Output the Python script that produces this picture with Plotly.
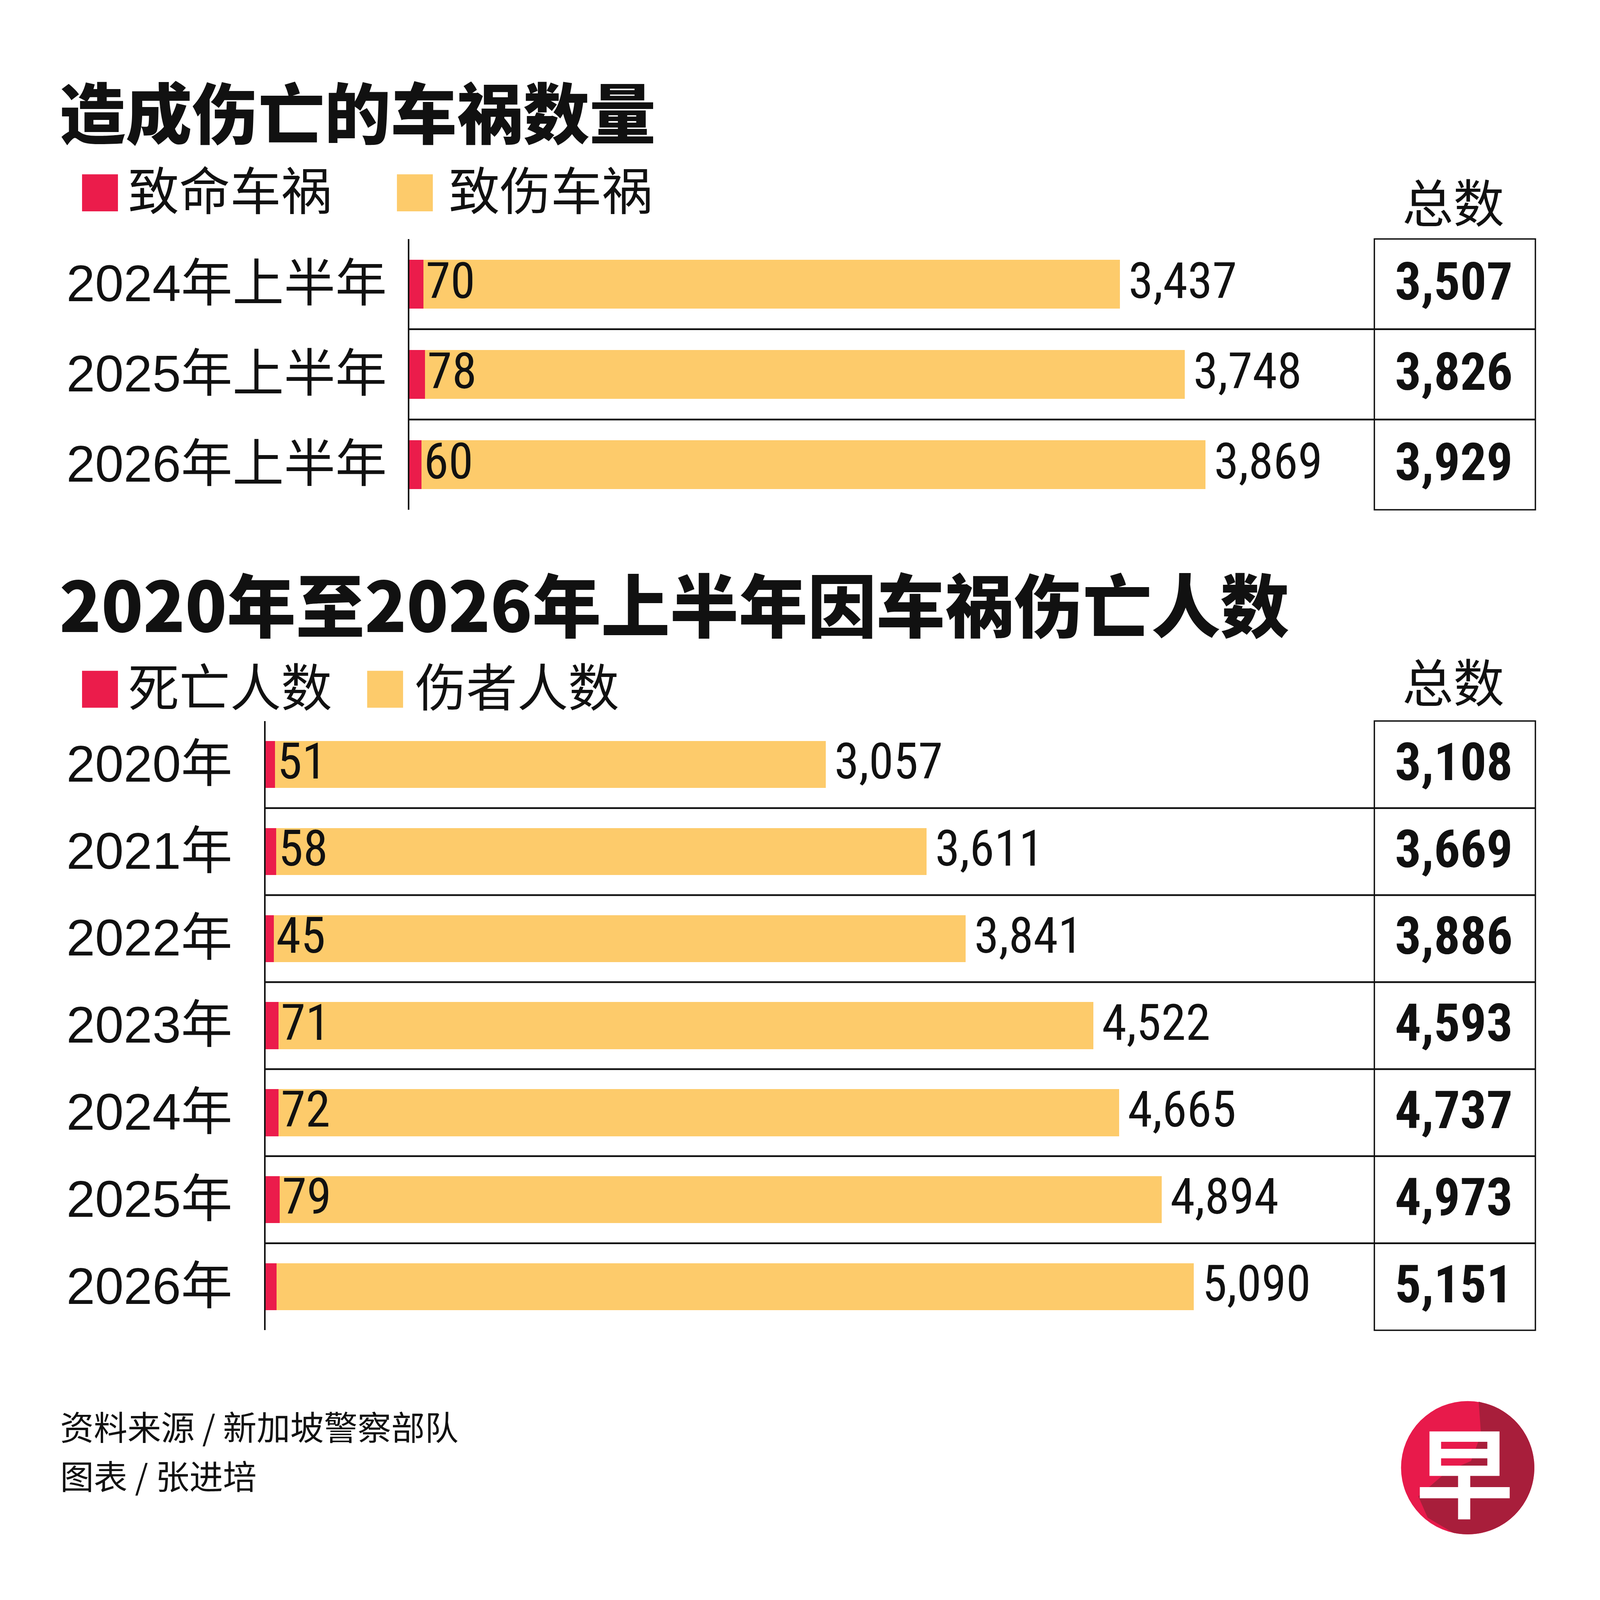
import math
import plotly.graph_objects as go

# 造成伤亡的车祸数量（上半年）
half_years = ["2024年上半年", "2025年上半年", "2026年上半年"]
fatal_accidents = [70, 78, 60]
injury_accidents = [3437, 3748, 3869]

# 2020年至2026年上半年因车祸伤亡人数
years = ["2020年", "2021年", "2022年", "2023年", "2024年", "2025年", "2026年"]
deaths = [51, 58, 45, 71, 72, 79, 61]
injured = [3057, 3611, 3841, 4522, 4665, 4894, 5090]
show_death_label = [True, True, True, True, True, True, False]

RED = "#EB1C4B"
YELLOW = "#FDCB6B"
INK = "#111111"
LOGO_RED = "#E81A4B"
LOGO_DARK = "#A81E3B"

NUM_FONT = ("Roboto Condensed, Noto Sans ExtraCondensed, Liberation Sans Narrow, "
            "DejaVu Sans Condensed, sans-serif")
CJK_FONT = "Noto Sans CJK SC, sans-serif"
YEAR_FONT = "Liberation Sans, Noto Sans CJK SC, sans-serif"

# positions were measured on a 1560px copy of the graphic; U turns those px into css px
U = 2.61
BOX_L, BOX_R = 1340, 1497


def px(x):
    return x / 1560


def py(y):
    return 1 - y / 1560


fig = go.Figure()
shapes = []
annotations = []


def add_panel(n, cats, red_vals, yellow_vals, left, top, bottom, per_unit, show_red=None):
    xa = "x" if n == 1 else f"x{n}"
    ya = "y" if n == 1 else f"y{n}"
    fig.add_trace(go.Bar(y=cats, x=red_vals, orientation="h", marker=dict(color=RED, line_width=0),
                         xaxis=xa, yaxis=ya, showlegend=False))
    fig.add_trace(go.Bar(y=cats, x=yellow_vals, orientation="h", marker=dict(color=YELLOW, line_width=0),
                         xaxis=xa, yaxis=ya, showlegend=False))

    sfx = "" if n == 1 else str(n)
    fig.update_layout({
        "xaxis" + sfx: dict(domain=[px(left), px(BOX_R)], range=[0, (BOX_R - left) / per_unit],
                            visible=False, anchor=ya, fixedrange=True),
        "yaxis" + sfx: dict(domain=[py(bottom), py(top)], type="category", categoryorder="array",
                            categoryarray=cats, autorange="reversed", showline=True, linecolor=INK,
                            linewidth=3.5, showticklabels=False, ticks="", showgrid=False,
                            zeroline=False, anchor=xa, fixedrange=True),
    })

    if show_red is None:
        show_red = [True] * len(cats)

    for i, (c, r, w) in enumerate(zip(cats, red_vals, yellow_vals)):
        annotations.append(dict(x=px(64), xref="paper", y=c, yref=ya, text=c, showarrow=False,
                                xanchor="left", yanchor="middle", yshift=2,
                                font=dict(family=YEAR_FONT, size=50.5 * U, color=INK)))
        if show_red[i]:
            annotations.append(dict(x=r, xref=xa, y=c, yref=ya, text=str(r), showarrow=False,
                                    xanchor="left", yanchor="middle", xshift=4, yshift=8,
                                    font=dict(family=NUM_FONT, size=49 * U, color=INK)))
        annotations.append(dict(x=r + w, xref=xa, y=c, yref=ya, text=f"{w:,}", showarrow=False,
                                xanchor="left", yanchor="middle", xshift=20, yshift=8,
                                font=dict(family=NUM_FONT, size=49 * U, color=INK)))
        annotations.append(dict(x=px((BOX_L + BOX_R) / 2 - 1), xref="paper", y=c, yref=ya,
                                text=f"<b>{r + w:,}</b>", showarrow=False, xanchor="center",
                                yanchor="middle", yshift=6,
                                font=dict(family=NUM_FONT, size=51 * U, color=INK)))

    # row separators, from the axis into the totals box
    for i in range(len(cats) - 1):
        shapes.append(dict(type="line", xref=f"{xa} domain", x0=0, x1=1, yref=ya,
                           y0=i + 0.5, y1=i + 0.5, line=dict(color=INK, width=4.5)))
    # totals box
    shapes.append(dict(type="rect", xref="paper", x0=px(BOX_L), x1=px(BOX_R),
                       yref=f"{ya} domain", y0=0, y1=1, line=dict(color=INK, width=3.5)))


add_panel(1, half_years, fatal_accidents, injury_accidents, 399, 233, 497, 0.1976)
add_panel(2, years, deaths, injured, 259, 703, 1297, 0.17567, show_death_label)


def title(text, y, size):
    annotations.append(dict(x=px(57), y=py(y), xref="paper", yref="paper", text=text,
                            showarrow=False, xanchor="left", yanchor="middle",
                            font=dict(family=CJK_FONT, size=size * U, color=INK, weight=900)))


def legend_item(x_sq, x_txt, y_c, color, text):
    shapes.append(dict(type="rect", xref="paper", yref="paper", x0=px(x_sq), x1=px(x_sq + 35),
                       y0=py(y_c + 18), y1=py(y_c - 18), fillcolor=color, line_width=0))
    annotations.append(dict(x=px(x_txt), y=py(y_c - 5), xref="paper", yref="paper", text=text,
                            showarrow=False, xanchor="left", yanchor="middle",
                            font=dict(family=CJK_FONT, size=50 * U, color=INK)))


def header(y):
    annotations.append(dict(x=px(1417), y=py(y), xref="paper", yref="paper", text="总数",
                            showarrow=False, xanchor="center", yanchor="middle",
                            font=dict(family=CJK_FONT, size=50 * U, color=INK)))


title("造成伤亡的车祸数量", 107, 65)
legend_item(80, 124, 188, RED, "致命车祸")
legend_item(387, 437, 188, YELLOW, "致伤车祸")
header(195)

title("2020年至2026年上半年因车祸伤亡人数", 587, 67.5)
legend_item(80, 124, 672, RED, "死亡人数")
legend_item(358, 404, 672, YELLOW, "伤者人数")
header(663)

# footer
for text, y in [("资料来源 / 新加坡警察部队", 1390), ("图表 / 张进培", 1438)]:
    annotations.append(dict(x=px(58), y=py(y), xref="paper", yref="paper", text=text,
                            showarrow=False, xanchor="left", yanchor="middle",
                            font=dict(family=CJK_FONT, size=33 * U, color=INK)))

# logo: red disc with a darker shadow toward the lower right, white character
cx, cy, r = px(1431), py(1431), px(65)


def on_logo(ux, uy):
    # ux, uy in radius units, uy measured downward
    return f"{cx + ux * r:.5f},{cy - uy * r:.5f}"


shadow_edge = [(0.165, -0.99), (0.2, -0.5), (0.05, -0.1), (-0.3, 0.05), (-0.74, 0.43),
               (-0.6, 0.75), (-0.22, 0.975)]
arc = [math.radians(a) for a in range(102, -82, -4)]
pts = [on_logo(ux, uy) for ux, uy in shadow_edge] + [on_logo(math.cos(a), math.sin(a)) for a in arc]
shapes.append(dict(type="circle", xref="paper", yref="paper", x0=cx - r, x1=cx + r,
                   y0=cy - r, y1=cy + r, fillcolor=LOGO_RED, line_width=0))
shapes.append(dict(type="path", xref="paper", yref="paper", path="M " + " L ".join(pts) + " Z",
                   fillcolor=LOGO_DARK, line_width=0))
annotations.append(dict(x=cx - px(3), y=cy, xref="paper", yref="paper", text="早", showarrow=False,
                        xanchor="center", yanchor="middle",
                        font=dict(family=CJK_FONT, size=96 * U, color="white", weight=700)))

# size follows the browser window so the whole graphic is on the page
fig.update_layout(
    autosize=True,
    margin=dict(l=0, r=0, t=0, b=0),
    paper_bgcolor="white", plot_bgcolor="white",
    barmode="stack", bargap=0.46,
    shapes=shapes, annotations=annotations,
    showlegend=False,
)

# drop the default page margin so the graphic fills the window exactly
fix_margin = ("document.body.style.margin='0';document.body.style.overflow='hidden';"
              "Plotly.Plots.resize(document.getElementById('{plot_id}'));")
fig.write_html("out.html", default_width="100%", default_height="100vh",
               post_script=fix_margin, config={"displayModeBar": False})
